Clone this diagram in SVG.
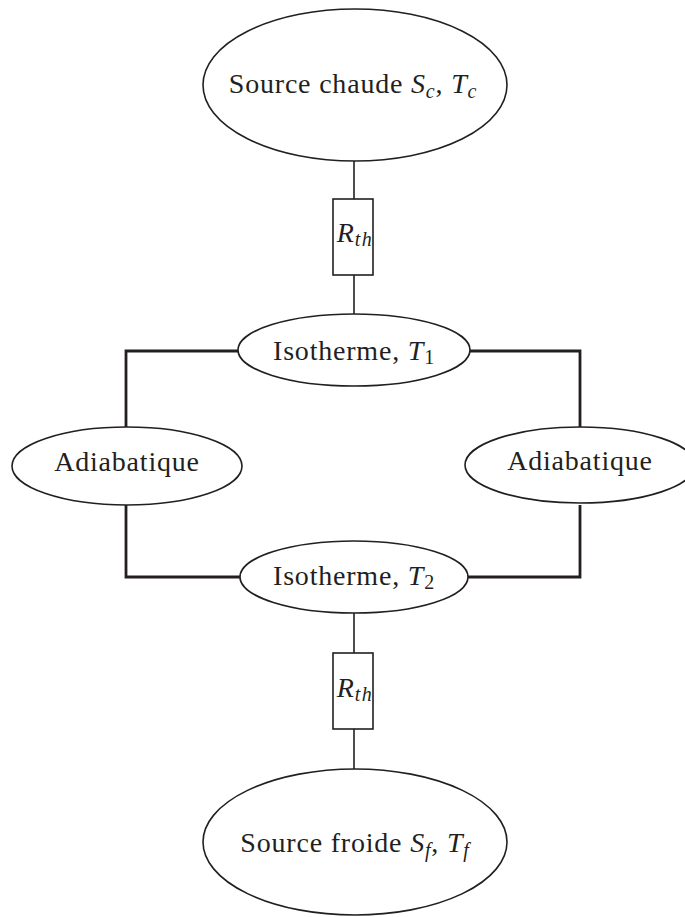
<svg xmlns="http://www.w3.org/2000/svg" width="685" height="917" viewBox="0 0 685 917">
  <style>
    .node { fill: #ffffff; stroke: #231f20; stroke-width: 1.6; }
    .wire { fill: none; stroke: #231f20; stroke-width: 1.6; }
    .loop { fill: none; stroke: #231f20; stroke-width: 2.8; }
    .lbl { font-family: "Liberation Serif", "DejaVu Serif", serif; font-size: 28px; letter-spacing: 0.8px; fill: #231f20; text-anchor: middle; }
    .it { font-style: italic; }
    .sub { font-size: 20px; }
  </style>
  <rect width="685" height="917" fill="#ffffff"/>

  <!-- connectors -->
  <g id="connectors">
    <line class="wire" x1="354" y1="160" x2="354" y2="199"/>
    <line class="wire" x1="354" y1="275" x2="354" y2="314"/>
    <line class="wire" x1="354" y1="613" x2="354" y2="653"/>
    <line class="wire" x1="354" y1="729" x2="354" y2="770"/>
    <polyline class="loop" points="238,351 126,351 126,427"/>
    <polyline class="loop" points="470,351 580,351 580,427"/>
    <polyline class="loop" points="126,505 126,577 240,577"/>
    <polyline class="loop" points="580,505 580,577 468,577"/>
  </g>

  <g id="source-chaude">
    <ellipse class="node" cx="355" cy="85" rx="152" ry="76"/>
    <text class="lbl" x="353" y="93">Source chaude <tspan class="it">S</tspan><tspan class="it sub" dy="5">c</tspan><tspan dy="-5">, </tspan><tspan class="it">T</tspan><tspan class="it sub" dy="5">c</tspan></text>
  </g>

  <g id="rth-haut">
    <rect class="node" x="333" y="199" width="40" height="76"/>
    <text class="lbl" x="355" y="242" letter-spacing="0"><tspan class="it">R</tspan><tspan class="it sub" dy="4" letter-spacing="1.5">th</tspan></text>
  </g>

  <g id="isotherme-1">
    <ellipse class="node" cx="354" cy="350" rx="116" ry="36"/>
    <text class="lbl" x="354" y="360">Isotherme, <tspan class="it">T</tspan><tspan class="sub" dy="4">1</tspan></text>
  </g>

  <g id="adiabatique-gauche">
    <ellipse class="node" cx="127" cy="466" rx="115" ry="39"/>
    <text class="lbl" x="127" y="471">Adiabatique</text>
  </g>

  <g id="adiabatique-droite">
    <ellipse class="node" cx="580" cy="465" rx="115" ry="38"/>
    <text class="lbl" x="580" y="470">Adiabatique</text>
  </g>

  <g id="isotherme-2">
    <ellipse class="node" cx="354" cy="577" rx="114" ry="36"/>
    <text class="lbl" x="354" y="585">Isotherme, <tspan class="it">T</tspan><tspan class="sub" dy="4">2</tspan></text>
  </g>

  <g id="rth-bas">
    <rect class="node" x="333" y="653" width="40" height="76"/>
    <text class="lbl" x="355" y="697" letter-spacing="0"><tspan class="it">R</tspan><tspan class="it sub" dy="4" letter-spacing="1.5">th</tspan></text>
  </g>

  <g id="source-froide">
    <ellipse class="node" cx="355" cy="842" rx="152" ry="73"/>
    <text class="lbl" x="355" y="852">Source froide <tspan class="it">S</tspan><tspan class="it sub" dy="5">f</tspan><tspan dy="-5">, </tspan><tspan class="it">T</tspan><tspan class="it sub" dy="5">f</tspan></text>
  </g>
</svg>
